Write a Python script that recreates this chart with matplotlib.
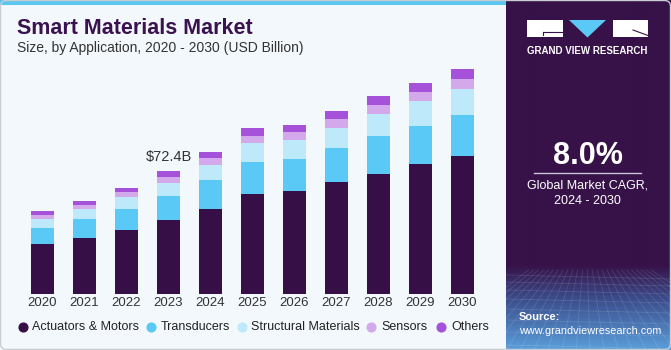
import matplotlib
matplotlib.use('Agg')
import matplotlib.pyplot as plt
import numpy as np
from matplotlib.patches import Rectangle, Polygon, FancyBboxPatch
from matplotlib.colors import LinearSegmentedColormap

plt.rcParams['font.family'] = ['Liberation Sans', 'DejaVu Sans']

# ---------------- data ----------------
years = ['2020', '2021', '2022', '2023', '2024', '2025',
         '2026', '2027', '2028', '2029', '2030']
actuators = [29.3, 33.0, 37.9, 43.5, 50.3, 58.8, 60.8, 65.9, 70.8, 76.5, 81.4]
transducers = [9.8, 11.2, 12.4, 14.5, 16.9, 19.2, 18.9, 20.2, 22.2, 22.8, 24.4]
structural = [5.1, 6.1, 6.9, 7.7, 8.7, 11.0, 11.0, 12.0, 13.2, 14.4, 15.0]
sensors = [2.5, 2.4, 2.8, 3.5, 4.1, 4.3, 4.7, 5.1, 5.5, 5.7, 6.3]
others = [2.0, 2.0, 2.8, 3.2, 3.5, 4.4, 4.3, 4.5, 5.1, 5.3, 5.5]
series_names = ['Actuators & Motors', 'Transducers', 'Structural Materials',
                'Sensors', 'Others']
colors = ['#360F47', '#5BC9F6', '#BDE9FA', '#D4A9EC', '#A651D9']
highlight_year = '2023'
highlight_label = '$72.4B'

W, H = 671, 350
fig = plt.figure(figsize=(W / 100, H / 100), dpi=100)
fig.patch.set_facecolor('#F3F8FC')

# ---------------- decoration layer (pixel coords) ----------------
deco = fig.add_axes([0, 0, 1, 1], zorder=0)
deco.set_xlim(0, W)
deco.set_ylim(H, 0)
deco.axis('off')
deco.patch.set_alpha(0)

# top blue strip
deco.add_patch(Rectangle((0, 0), 506, 5, color='#5BC6F0', lw=0))

# right panel with gradient
px0 = 506
stops = [(0.0, '#371248'), (0.76, '#371248'), (0.86, '#3C4F8E'),
         (1.0, '#5A9DDA')]
cmap = LinearSegmentedColormap.from_list('panel', stops)
grad = np.linspace(0, 1, 350).reshape(-1, 1)
deco.imshow(grad, cmap=cmap, extent=(px0, W, H, 0), aspect='auto',
            interpolation='bilinear', zorder=1)
# grid texture in lower panel
for i in range(-6, 20):
    xb = px0 + i * 14
    deco.plot([px0 + 80 + (xb - px0 - 80) * 0.35, xb], [270, 350],
              color='white', alpha=0.12, lw=0.6, zorder=2)
for yy in [275, 282, 290, 299, 309, 320, 332, 345]:
    deco.plot([px0, W], [yy, yy + 4], color='white', alpha=0.12, lw=0.6,
              zorder=2)
deco.set_xlim(0, W)
deco.set_ylim(H, 0)

# logo
deco.add_patch(Rectangle((527, 20), 36, 17, color='white', lw=0, zorder=3))
deco.plot([543, 563], [32, 32], color='#371248', lw=0.8, zorder=4)
deco.plot([543, 543], [32, 35], color='#371248', lw=0.8, zorder=4)
deco.add_patch(Polygon([(569, 20), (606, 20), (587.5, 37.5)],
                       closed=True, color='#5BC9F6', lw=0, zorder=3))
deco.add_patch(Rectangle((613, 20), 35, 17, color='white', lw=0, zorder=3))
deco.plot([633, 648], [30, 35.5], color='#371248', lw=0.8, zorder=4)
deco.text(587.5, 51, 'GRAND VIEW RESEARCH', color='white', fontsize=7,
          fontweight='bold', ha='center', va='center', zorder=4)

# CAGR block
deco.text(587.5, 156, '8.0%', color='white', fontsize=22, fontweight='bold',
          ha='center', va='center', zorder=4)
deco.plot([534, 641], [173, 173], color='#C9C3D6', lw=1, zorder=4)
deco.text(587.5, 186, 'Global Market CAGR,', color='white', fontsize=9,
          ha='center', va='center', zorder=4)
deco.text(587.5, 201, '2024 - 2030', color='white', fontsize=9,
          ha='center', va='center', zorder=4)

# source
deco.text(519, 317, 'Source:', color='white', fontsize=8, fontweight='bold',
          ha='left', va='center', zorder=4)
deco.text(519, 331, 'www.grandviewresearch.com', color='white', fontsize=7.8,
          ha='left', va='center', zorder=4)

# title
deco.text(17, 29, 'Smart Materials Market', color='#3A1250', fontsize=15.5,
          fontweight='heavy', ha='left', va='center', zorder=4)
deco.text(17, 48, 'Size, by Application, 2020 - 2030 (USD Billion)',
          color='#333333', fontsize=10, ha='left', va='center', zorder=4)

# legend
leg_cx = [23, 151, 242, 371, 441]
leg_tx = [32, 161, 251, 381, 451]
for cx, tx, name, c in zip(leg_cx, leg_tx, series_names, colors):
    deco.plot([cx], [327], 'o', ms=6.3, color=c, zorder=4)
    deco.text(tx, 327, name, color='#222222', fontsize=9, ha='left',
              va='center', zorder=4)

# outer border
deco.add_patch(FancyBboxPatch((0.5, 0.5), W - 1, H - 1,
                              boxstyle='round,pad=0,rounding_size=6',
                              fc='none', ec='#C8CDD2', lw=1, zorder=5))

# ---------------- chart ----------------
scale = 72.4 / 122.7  # value per pixel
ax = fig.add_axes([21.5 / W, (H - 294) / H, 462 / W, 234 / H], zorder=2)
ax.patch.set_alpha(0)
x = np.arange(len(years))
bottom = np.zeros(len(years))
for vals, c in zip([actuators, transducers, structural, sensors, others],
                   colors):
    vals = np.array(vals)
    ax.bar(x, vals, 0.55, bottom=bottom, color=c, lw=0)
    bottom += vals
ax.set_xlim(-0.5, len(years) - 0.5)
ax.set_ylim(0, 234 * scale)
hi = years.index(highlight_year)
ax.annotate(highlight_label, (x[hi], bottom[hi]), xytext=(0, 10),
            textcoords='offset points', ha='center', va='center',
            fontsize=10.5, color='#333333')
ax.set_xticks(x, years)
ax.tick_params(length=0, pad=2.5, labelsize=9.5, colors='#333333')
ax.set_yticks([])
for s in ax.spines.values():
    s.set_visible(False)

fig.savefig('out.png', dpi=100, facecolor=fig.get_facecolor())
